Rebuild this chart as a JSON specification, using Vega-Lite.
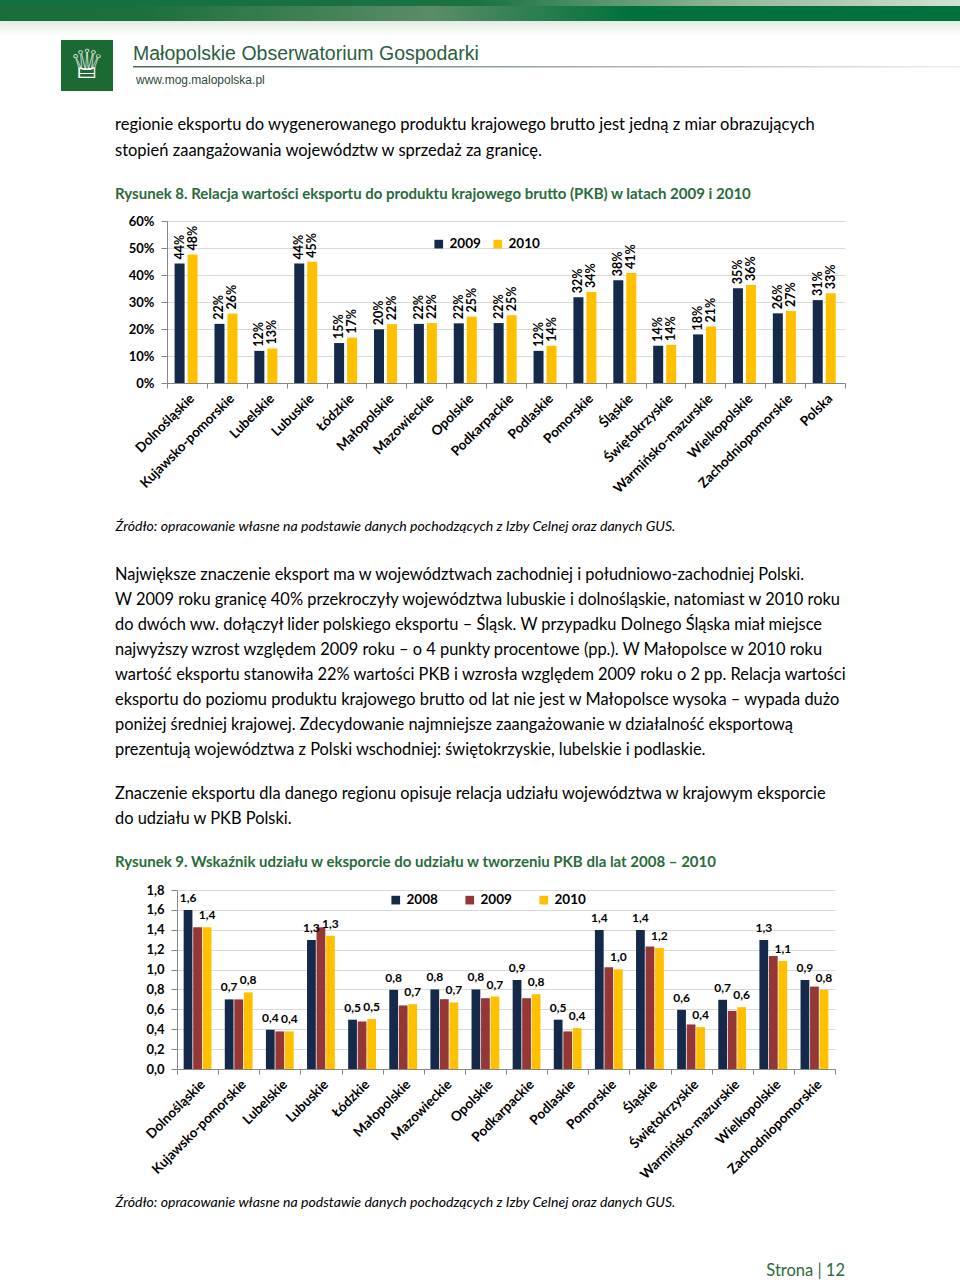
{
  "$schema": "https://vega.github.io/schema/vega-lite/v6.json",
  "padding": 0,
  "spacing": 0,
  "bounds": "flush",
  "background": "white",
  "resolve": {"scale": {"color": "independent", "x": "independent", "y": "independent", "xOffset": "independent"}, "legend": {"color": "independent"}, "axis": {"x": "independent", "y": "independent"}},
  "config": {
    "view": {"stroke": null},
    "locale": {"number": {"decimal": ",", "thousands": " ", "grouping": [3], "currency": ["", " zł"]}},
    "axis": {"labelFont": "Lato", "labelColor": "#000000", "labelFontWeight": "bold", "domainColor": "#868686", "tickColor": "#868686", "gridColor": "#d9d9d9"}
  },
  "datasets": {
    "fig8": [
      {"region": "Dolnośląskie", "year": "2009", "value": 0.443}, {"region": "Dolnośląskie", "year": "2010", "value": 0.476},
      {"region": "Kujawsko-pomorskie", "year": "2009", "value": 0.219}, {"region": "Kujawsko-pomorskie", "year": "2010", "value": 0.257},
      {"region": "Lubelskie", "year": "2009", "value": 0.119}, {"region": "Lubelskie", "year": "2010", "value": 0.128},
      {"region": "Lubuskie", "year": "2009", "value": 0.443}, {"region": "Lubuskie", "year": "2010", "value": 0.449},
      {"region": "Łódzkie", "year": "2009", "value": 0.148}, {"region": "Łódzkie", "year": "2010", "value": 0.168},
      {"region": "Małopolskie", "year": "2009", "value": 0.199}, {"region": "Małopolskie", "year": "2010", "value": 0.218},
      {"region": "Mazowieckie", "year": "2009", "value": 0.219}, {"region": "Mazowieckie", "year": "2010", "value": 0.222},
      {"region": "Opolskie", "year": "2009", "value": 0.221}, {"region": "Opolskie", "year": "2010", "value": 0.246},
      {"region": "Podkarpackie", "year": "2009", "value": 0.222}, {"region": "Podkarpackie", "year": "2010", "value": 0.251},
      {"region": "Podlaskie", "year": "2009", "value": 0.119}, {"region": "Podlaskie", "year": "2010", "value": 0.138},
      {"region": "Pomorskie", "year": "2009", "value": 0.318}, {"region": "Pomorskie", "year": "2010", "value": 0.337},
      {"region": "Śląskie", "year": "2009", "value": 0.381}, {"region": "Śląskie", "year": "2010", "value": 0.407},
      {"region": "Świętokrzyskie", "year": "2009", "value": 0.138}, {"region": "Świętokrzyskie", "year": "2010", "value": 0.141},
      {"region": "Warmińsko-mazurskie", "year": "2009", "value": 0.180}, {"region": "Warmińsko-mazurskie", "year": "2010", "value": 0.209},
      {"region": "Wielkopolskie", "year": "2009", "value": 0.351}, {"region": "Wielkopolskie", "year": "2010", "value": 0.363},
      {"region": "Zachodniopomorskie", "year": "2009", "value": 0.258}, {"region": "Zachodniopomorskie", "year": "2010", "value": 0.267},
      {"region": "Polska", "year": "2009", "value": 0.307}, {"region": "Polska", "year": "2010", "value": 0.332}
    ],
    "fig9": [
      {"region": "Dolnośląskie", "year": "2008", "value": 1.60}, {"region": "Dolnośląskie", "year": "2009", "value": 1.425}, {"region": "Dolnośląskie", "year": "2010", "value": 1.425},
      {"region": "Kujawsko-pomorskie", "year": "2008", "value": 0.70}, {"region": "Kujawsko-pomorskie", "year": "2009", "value": 0.70}, {"region": "Kujawsko-pomorskie", "year": "2010", "value": 0.77},
      {"region": "Lubelskie", "year": "2008", "value": 0.395}, {"region": "Lubelskie", "year": "2009", "value": 0.378}, {"region": "Lubelskie", "year": "2010", "value": 0.378},
      {"region": "Lubuskie", "year": "2008", "value": 1.298}, {"region": "Lubuskie", "year": "2009", "value": 1.425}, {"region": "Lubuskie", "year": "2010", "value": 1.341},
      {"region": "Łódzkie", "year": "2008", "value": 0.496}, {"region": "Łódzkie", "year": "2009", "value": 0.478}, {"region": "Łódzkie", "year": "2010", "value": 0.502},
      {"region": "Małopolskie", "year": "2008", "value": 0.796}, {"region": "Małopolskie", "year": "2009", "value": 0.639}, {"region": "Małopolskie", "year": "2010", "value": 0.652},
      {"region": "Mazowieckie", "year": "2008", "value": 0.80}, {"region": "Mazowieckie", "year": "2009", "value": 0.702}, {"region": "Mazowieckie", "year": "2010", "value": 0.669},
      {"region": "Opolskie", "year": "2008", "value": 0.80}, {"region": "Opolskie", "year": "2009", "value": 0.712}, {"region": "Opolskie", "year": "2010", "value": 0.729},
      {"region": "Podkarpackie", "year": "2008", "value": 0.896}, {"region": "Podkarpackie", "year": "2009", "value": 0.712}, {"region": "Podkarpackie", "year": "2010", "value": 0.752},
      {"region": "Podlaskie", "year": "2008", "value": 0.496}, {"region": "Podlaskie", "year": "2009", "value": 0.378}, {"region": "Podlaskie", "year": "2010", "value": 0.411},
      {"region": "Pomorskie", "year": "2008", "value": 1.398}, {"region": "Pomorskie", "year": "2009", "value": 1.023}, {"region": "Pomorskie", "year": "2010", "value": 1.003},
      {"region": "Śląskie", "year": "2008", "value": 1.398}, {"region": "Śląskie", "year": "2009", "value": 1.231}, {"region": "Śląskie", "year": "2010", "value": 1.217},
      {"region": "Świętokrzyskie", "year": "2008", "value": 0.595}, {"region": "Świętokrzyskie", "year": "2009", "value": 0.448}, {"region": "Świętokrzyskie", "year": "2010", "value": 0.421},
      {"region": "Warmińsko-mazurskie", "year": "2008", "value": 0.696}, {"region": "Warmińsko-mazurskie", "year": "2009", "value": 0.585}, {"region": "Warmińsko-mazurskie", "year": "2010", "value": 0.622},
      {"region": "Wielkopolskie", "year": "2008", "value": 1.298}, {"region": "Wielkopolskie", "year": "2009", "value": 1.137}, {"region": "Wielkopolskie", "year": "2010", "value": 1.087},
      {"region": "Zachodniopomorskie", "year": "2008", "value": 0.896}, {"region": "Zachodniopomorskie", "year": "2009", "value": 0.829}, {"region": "Zachodniopomorskie", "year": "2010", "value": 0.796}
    ]
  },
  "vconcat": [
    {
      "width": 678,
      "height": 112,
      "data": {"values": [{"site": "Małopolskie Obserwatorium Gospodarki", "url": "www.mog.malopolska.pl", "icon": "♕"}]},
      "layer": [
        {"mark": {"type": "rect", "color": {"gradient": "linear", "x1": 0, "x2": 1, "y1": 0, "y2": 0, "stops": [{"offset": 0, "color": "#1a6c3b"}, {"offset": 0.15, "color": "#1d6f3e"}, {"offset": 0.45, "color": "#5b8c67"}, {"offset": 0.66, "color": "#00703c"}, {"offset": 1, "color": "#00703c"}]}},
         "encoding": {"x": {"value": -167}, "x2": {"value": 793}, "y": {"value": 0}, "y2": {"value": 21}}},
        {"mark": {"type": "rect", "color": {"gradient": "linear", "x1": 0, "x2": 1, "y1": 0, "y2": 0, "stops": [{"offset": 0, "color": "#137040"}, {"offset": 0.5, "color": "#1a7243"}, {"offset": 0.75, "color": "#8fb595"}, {"offset": 1, "color": "#d2e1d2"}]}},
         "encoding": {"x": {"value": -167}, "x2": {"value": 793}, "y": {"value": 0}, "y2": {"value": 6}}},
        {"mark": {"type": "rect", "color": {"gradient": "linear", "x1": 0, "x2": 0, "y1": 0, "y2": 1, "stops": [{"offset": 0, "color": "#e2ebe2"}, {"offset": 1, "color": "#ffffff"}]}},
         "encoding": {"x": {"value": -167}, "x2": {"value": 793}, "y": {"value": 21}, "y2": {"value": 36}}},
        {"mark": {"type": "rect", "color": "#1c6a33"},
         "encoding": {"x": {"value": -106}, "x2": {"value": -54}, "y": {"value": 40}, "y2": {"value": 91}}},
        {"mark": {"type": "text", "font": "DejaVu Sans", "fontSize": 40, "color": "#ffffff", "align": "center", "baseline": "middle"},
         "encoding": {"x": {"value": -80}, "y": {"value": 66}, "text": {"field": "icon"}}},
        {"mark": {"type": "text", "font": "Liberation Sans", "fontSize": 19.5, "color": "#2b5e3e", "align": "left", "baseline": "middle"},
         "encoding": {"x": {"value": -34}, "y": {"value": 54}, "text": {"field": "site"}}},
        {"mark": {"type": "rect", "color": {"gradient": "linear", "x1": 0, "x2": 1, "y1": 0, "y2": 0, "stops": [{"offset": 0, "color": "#4d6b57"}, {"offset": 0.5, "color": "#9aa89e"}, {"offset": 1, "color": "#f0f0f0"}]}},
         "encoding": {"x": {"value": -34}, "x2": {"value": 793}, "y": {"value": 66}, "y2": {"value": 67.5}}},
        {"mark": {"type": "text", "font": "Liberation Sans", "fontSize": 12, "color": "#2d4a38", "align": "left", "baseline": "middle"},
         "encoding": {"x": {"value": -31}, "y": {"value": 80}, "text": {"field": "url"}}}
      ]
    },
    {
      "width": 678,
      "height": 109,
      "data": {"values": [
        {"line": 1, "text": "regionie eksportu do wygenerowanego produktu krajowego brutto jest jedną z miar obrazujących"},
        {"line": 2, "text": "stopień zaangażowania województw w sprzedaż za granicę."}
      ]},
      "mark": {"type": "text", "align": "left", "baseline": "middle", "font": "Lato", "fontSize": 16.5, "color": "#000000"},
      "encoding": {
        "x": {"value": -52},
        "y": {"field": "line", "type": "quantitative", "scale": {"domain": [1, 2], "range": [13, 39]}, "axis": null},
        "text": {"field": "text"}
      }
    },
    {
      "width": 678,
      "height": 162,
      "title": {"text": "Rysunek 8. Relacja wartości eksportu do produktu krajowego brutto (PKB) w latach 2009 i 2010", "anchor": "start", "frame": "group", "dx": -52, "offset": -2, "baseline": "bottom", "font": "Lato", "fontSize": 15, "fontWeight": "bold", "color": "#2a6b3c"},
      "data": {"name": "fig8"},
      "encoding": {
        "x": {"field": "region", "type": "nominal", "sort": null, "scale": {"paddingInner": 0, "paddingOuter": 0},
              "axis": {"tickBand": "extent", "labelAngle": -45, "labelFontSize": 13.5, "labelPadding": 3, "labelOverlap": false, "labelLimit": 300, "tickSize": 5,
                       "title": "Źródło: opracowanie własne na podstawie danych pochodzących z Izby Celnej oraz danych GUS.",
                       "titleFont": "Lato", "titleFontStyle": "italic", "titleFontWeight": "normal", "titleFontSize": 14.1, "titleColor": "#000000",
                       "titleX": -52, "titleY": 143, "titleAlign": "left", "titleBaseline": "middle", "titleAngle": 0}},
        "xOffset": {"field": "year", "type": "nominal", "scale": {"paddingInner": 0.23, "paddingOuter": 0.65, "align": 0.45}},
        "y": {"field": "value", "type": "quantitative", "scale": {"domain": [0, 0.6]},
              "axis": {"values": [0, 0.1, 0.2, 0.3, 0.4, 0.5, 0.6], "format": ".0%", "labelFontSize": 13, "tickSize": 6, "labelPadding": 7, "title": null}}
      },
      "layer": [
        {"mark": {"type": "bar"},
         "encoding": {"color": {"field": "year", "type": "nominal", "scale": {"domain": ["2009", "2010"], "range": ["#15294a", "#ffc000"]},
                                "legend": {"orient": "none", "legendX": 265, "legendY": 16, "direction": "horizontal", "title": null, "symbolType": "square", "symbolSize": 75, "symbolOpacity": 1, "labelFont": "Lato", "labelFontSize": 13.5, "labelFontWeight": "bold", "labelColor": "#000000", "columnPadding": 10, "labelOffset": 4}}}},
        {"mark": {"type": "text", "angle": 270, "align": "left", "baseline": "middle", "dx": 4, "font": "Lato", "fontWeight": "bold", "fontSize": 12.5, "color": "#000000"},
         "encoding": {"text": {"field": "value", "format": ".0%"}}}
      ]
    },
    {
      "width": 678,
      "height": 380,
      "data": {"values": [
        {"line": 1, "text": "Największe znaczenie eksport ma w województwach zachodniej i południowo-zachodniej Polski."},
        {"line": 2, "text": "W 2009 roku granicę 40% przekroczyły województwa lubuskie i dolnośląskie, natomiast w 2010 roku"},
        {"line": 3, "text": "do dwóch ww. dołączył lider polskiego eksportu – Śląsk. W przypadku Dolnego Śląska miał miejsce"},
        {"line": 4, "text": "najwyższy wzrost względem 2009 roku – o 4 punkty procentowe (pp.). W Małopolsce w 2010 roku"},
        {"line": 5, "text": "wartość eksportu stanowiła 22% wartości PKB i wzrosła względem 2009 roku o 2 pp. Relacja wartości"},
        {"line": 6, "text": "eksportu do poziomu produktu krajowego brutto od lat nie jest w Małopolsce wysoka – wypada dużo"},
        {"line": 7, "text": "poniżej średniej krajowej. Zdecydowanie najmniejsze zaangażowanie w działalność eksportową"},
        {"line": 8, "text": "prezentują województwa z Polski wschodniej: świętokrzyskie, lubelskie i podlaskie."}
      ]},
      "mark": {"type": "text", "align": "left", "baseline": "middle", "font": "Lato", "fontSize": 16.4, "color": "#000000"},
      "encoding": {
        "x": {"value": -52},
        "y": {"field": "line", "type": "quantitative", "scale": {"domain": [1, 8], "range": [192, 367]}, "axis": null},
        "text": {"field": "text"}
      }
    },
    {
      "width": 678,
      "height": 127,
      "data": {"values": [
        {"line": 1, "text": "Znaczenie eksportu dla danego regionu opisuje relacja udziału województwa w krajowym eksporcie"},
        {"line": 2, "text": "do udziału w PKB Polski."}
      ]},
      "mark": {"type": "text", "align": "left", "baseline": "middle", "font": "Lato", "fontSize": 16.4, "color": "#000000"},
      "encoding": {
        "x": {"value": -52},
        "y": {"field": "line", "type": "quantitative", "scale": {"domain": [1, 2], "range": [31, 56]}, "axis": null},
        "text": {"field": "text"}
      }
    },
    {
      "width": 668,
      "height": 179,
      "title": {"text": "Rysunek 9. Wskaźnik udziału w eksporcie do udziału w tworzeniu PKB dla lat 2008 – 2010", "anchor": "start", "frame": "group", "dx": -52, "offset": -1, "baseline": "bottom", "font": "Lato", "fontSize": 15, "fontWeight": "bold", "color": "#2a6b3c"},
      "data": {"name": "fig9"},
      "encoding": {
        "x": {"field": "region", "type": "nominal", "sort": null, "scale": {"paddingInner": 0, "paddingOuter": 0, "range": [10, 668]},
              "axis": {"tickBand": "extent", "labelAngle": -45, "labelFontSize": 13.5, "labelPadding": 3, "labelOverlap": false, "labelLimit": 300, "tickSize": 5,
                       "title": "Źródło: opracowanie własne na podstawie danych pochodzących z Izby Celnej oraz danych GUS.",
                       "titleFont": "Lato", "titleFontStyle": "italic", "titleFontWeight": "normal", "titleFontSize": 14.1, "titleColor": "#000000",
                       "titleX": -52, "titleY": 133, "titleAlign": "left", "titleBaseline": "middle", "titleAngle": 0}},
        "xOffset": {"field": "year", "type": "nominal", "scale": {"paddingInner": 0.08, "paddingOuter": 0.7}},
        "y": {"field": "value", "type": "quantitative", "scale": {"domain": [0, 1.8]},
              "axis": {"values": [0, 0.2, 0.4, 0.6, 0.8, 1.0, 1.2, 1.4, 1.6, 1.8], "format": ".1f", "labelFontSize": 13, "tickSize": 6, "labelPadding": 7, "offset": -10, "title": null}}
      },
      "layer": [
        {"mark": {"type": "bar"},
         "encoding": {"color": {"field": "year", "type": "nominal", "scale": {"domain": ["2008", "2009", "2010"], "range": ["#15294a", "#953735", "#ffc000"]},
                                "legend": {"orient": "none", "legendX": 222, "legendY": 3, "direction": "horizontal", "title": null, "symbolType": "square", "symbolSize": 75, "symbolOpacity": 1, "labelFont": "Lato", "labelFontSize": 13.5, "labelFontWeight": "bold", "labelColor": "#000000", "columnPadding": 25, "labelOffset": 4}}}},
        {"transform": [{"filter": "datum.year !== '2009'"}],
         "mark": {"type": "text", "align": "center", "baseline": "bottom", "dy": -5, "font": "Lato", "fontWeight": "bold", "fontSize": 12, "color": "#000000"},
         "encoding": {"text": {"field": "value", "format": ".1f"}}}
      ]
    },
    {
      "width": 678,
      "height": 213,
      "data": {"values": [{"text": "Strona | 12"}]},
      "mark": {"type": "text", "align": "right", "baseline": "middle", "font": "Lato", "fontSize": 16.5, "color": "#2a6b3c"},
      "encoding": {"x": {"value": 678}, "y": {"value": 202}, "text": {"field": "text"}}
    }
  ]
}
